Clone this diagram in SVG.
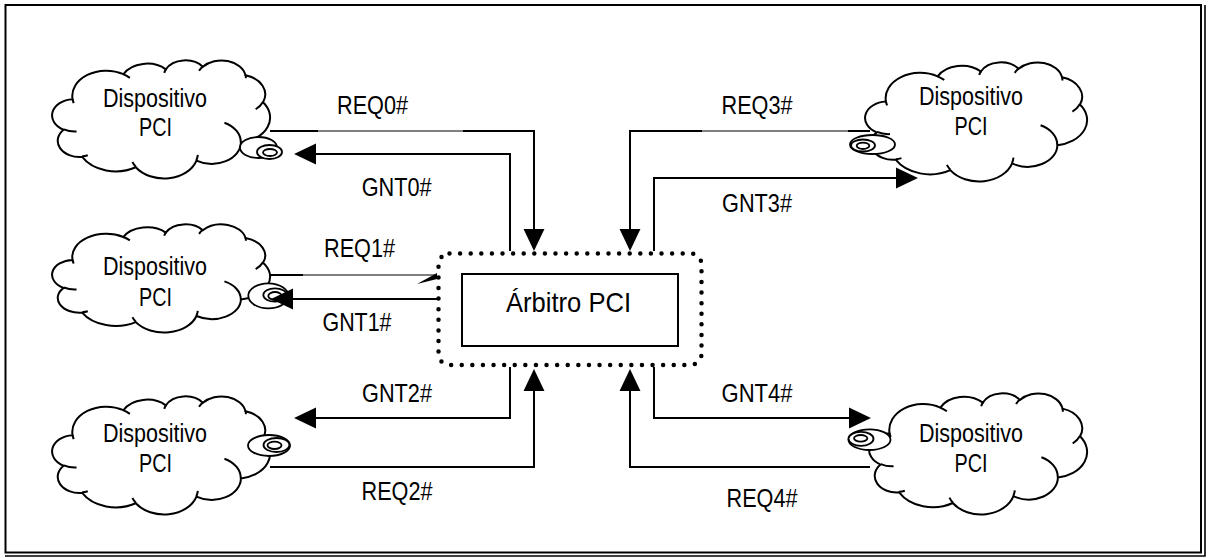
<svg xmlns="http://www.w3.org/2000/svg" xmlns:xlink="http://www.w3.org/1999/xlink" width="1208" height="558" viewBox="0 0 1208 558">
<style>
.ln{fill:none;stroke:#000;stroke-width:2}
.thin{fill:none;stroke:#000;stroke-width:1}
.cl{fill:#fff;stroke:#000;stroke-width:2}
.cr{fill:none;stroke:#000;stroke-width:2}
.bub{fill:#fff;stroke:#000;stroke-width:1.8}
.t{font-family:"Liberation Sans",Arial,sans-serif;font-size:25px;fill:#000;text-anchor:middle}
.tb{font-family:"Liberation Sans",Arial,sans-serif;font-size:28px;fill:#000;text-anchor:middle}
</style>
<defs>
<marker id="ah" markerUnits="userSpaceOnUse" markerWidth="22" markerHeight="22" viewBox="0 0 21 20" refX="1" refY="10" orient="auto">
<path d="M0,0 L21,10 L0,20 Z" fill="#000"/>
</marker>
<path id="cloud" vector-effect="non-scaling-stroke" d="M9.03,33.26 A15.63,21.27 0 0 1 32.42,12.04 A12.34,16.82 0 0 1 51.98,7.94 A10.10,13.76 0 0 1 69.06,5.74 A11.24,15.27 0 0 1 88.70,12.90 A12.34,16.84 0 0 1 96.80,35.78 A15.68,21.34 0 0 1 86.59,69.91 A13.39,18.21 0 0 1 66.11,85.21 A15.63,21.33 0 0 1 38.15,90.89 A17.87,24.41 0 0 1 13.44,82.11 A10.09,13.70 0 0 1 4.90,59.14 A10.06,13.76 0 0 1 9.03,33.26 Z"/>
<path id="crease" vector-effect="non-scaling-stroke" d="M10.86,60.59 A10.06,13.76 0 0 1 5.00,58.75 M16.04,80.78 A10.09,13.70 0 0 1 13.47,81.67 M38.14,90.49 A15.63,21.33 0 0 1 36.60,86.45 M66.73,80.44 A15.63,21.33 0 0 1 66.11,84.86 M79.00,53.13 A13.39,18.21 0 0 1 86.53,69.65 M96.75,35.54 A12.34,16.84 0 0 1 93.40,41.74 M88.71,12.56 A11.24,15.27 0 0 1 88.89,15.48 M67.31,9.15 A11.24,15.27 0 0 1 69.03,5.41 M51.25,10.93 A10.10,13.76 0 0 1 52.08,7.71 M32.41,12.02 A15.63,21.27 0 0 1 35.42,15.14 M9.55,36.55 A15.63,21.27 0 0 1 9.03,33.27"/>
</defs>
<rect x="0" y="0" width="1208" height="558" fill="#fff"/>
<g id="frame" fill="none" stroke="#000">
<rect x="5.5" y="5" width="1195.5" height="547.5" stroke-width="2"/>
<path d="M1205,5 V556 H5" stroke-width="1.6"/>
</g>

<g id="dev0">
<use xlink:href="#cloud" class="cl" transform="translate(53,60) scale(2.17,1.18)"/>
<use xlink:href="#crease" class="cr" transform="translate(53,60) scale(2.17,1.18)"/>
<ellipse class="bub" cx="258.5" cy="147.5" rx="18.5" ry="10.5"/>
<ellipse class="bub" cx="269.5" cy="152" rx="12.5" ry="7"/>
<ellipse class="bub" cx="270" cy="152.5" rx="7" ry="3.5"/>
<text class="t" x="155" y="106.5" textLength="104" lengthAdjust="spacingAndGlyphs">Dispositivo</text>
<text class="t" x="155.5" y="136" textLength="33" lengthAdjust="spacingAndGlyphs">PCI</text>
</g>

<g id="dev1">
<use xlink:href="#cloud" class="cl" transform="translate(53,224) scale(2.17,1.08)"/>
<use xlink:href="#crease" class="cr" transform="translate(53,224) scale(2.17,1.08)"/>
<ellipse class="bub" cx="268.3" cy="295.8" rx="20" ry="12.5"/>
<ellipse class="bub" cx="275" cy="295" rx="11.7" ry="6.7"/>
<ellipse class="bub" cx="275" cy="296" rx="6.7" ry="4"/>
<text class="t" x="155" y="275" textLength="104" lengthAdjust="spacingAndGlyphs">Dispositivo</text>
<text class="t" x="155.5" y="306" textLength="33" lengthAdjust="spacingAndGlyphs">PCI</text>
</g>

<g id="dev2">
<use xlink:href="#cloud" class="cl" transform="translate(53,396) scale(2.17,1.18)"/>
<use xlink:href="#crease" class="cr" transform="translate(53,396) scale(2.17,1.18)"/>
<ellipse class="bub" cx="269" cy="445.5" rx="21" ry="10.5"/>
<ellipse class="bub" cx="276.5" cy="445" rx="13" ry="7"/>
<ellipse class="bub" cx="274.5" cy="445.3" rx="7" ry="3.7"/>
<text class="t" x="155" y="442" textLength="104" lengthAdjust="spacingAndGlyphs">Dispositivo</text>
<text class="t" x="155.5" y="472" textLength="33" lengthAdjust="spacingAndGlyphs">PCI</text>
</g>

<g id="dev3">
<use xlink:href="#cloud" class="cl" transform="translate(866,62) scale(2.21,1.19)"/>
<use xlink:href="#crease" class="cr" transform="translate(866,62) scale(2.21,1.19)"/>
<ellipse class="bub" cx="872.5" cy="144.5" rx="22.5" ry="9.5"/>
<ellipse class="bub" cx="863" cy="145.5" rx="12" ry="6"/>
<ellipse class="bub" cx="863" cy="145.8" rx="6.3" ry="3.2"/>
<text class="t" x="971" y="105" textLength="104" lengthAdjust="spacingAndGlyphs">Dispositivo</text>
<text class="t" x="971" y="135" textLength="33" lengthAdjust="spacingAndGlyphs">PCI</text>
</g>

<g id="dev4">
<use xlink:href="#cloud" class="cl" transform="translate(870,393) scale(2.17,1.21)"/>
<use xlink:href="#crease" class="cr" transform="translate(870,393) scale(2.17,1.21)"/>
<ellipse class="bub" cx="869.5" cy="439.7" rx="21" ry="10.3"/>
<ellipse class="bub" cx="861" cy="438.8" rx="12.5" ry="7"/>
<ellipse class="bub" cx="860.7" cy="438.3" rx="6.7" ry="3.3"/>
<text class="t" x="971" y="442" textLength="104" lengthAdjust="spacingAndGlyphs">Dispositivo</text>
<text class="t" x="971" y="472" textLength="33" lengthAdjust="spacingAndGlyphs">PCI</text>
</g>

<g id="arbiter">
<rect x="438.5" y="253.5" width="263" height="111.5" rx="11" fill="none" stroke="#000" stroke-width="4.5" stroke-linecap="round" stroke-dasharray="0 10.6"/>
<rect x="462" y="274" width="216" height="72" fill="#fff" stroke="#000" stroke-width="2"/>
<text class="tb" x="568.5" y="312" textLength="125" lengthAdjust="spacingAndGlyphs">Árbitro PCI</text>
</g>

<g id="connectors">
<path class="ln" d="M270,131 H318"/>
<path class="thin" d="M318,131 H463"/>
<path class="ln" d="M463,131 H534 V230" marker-end="url(#ah)"/>
<path class="ln" d="M510,251 V154 H315" marker-end="url(#ah)"/>
<path class="ln" d="M270,275 H303"/>
<path class="thin" d="M303,275 H437"/>
<polygon points="417,284 437,273 437,279" fill="#000"/>
<path class="ln" d="M437,299 H292" marker-end="url(#ah)"/>
<path class="ln" d="M510,367 V418 H315" marker-end="url(#ah)"/>
<path class="ln" d="M270,467 H534 V390" marker-end="url(#ah)"/>
<path class="ln" d="M870,131 H848"/>
<path class="thin" d="M848,131 H702"/>
<path class="ln" d="M702,131 H630 V230" marker-end="url(#ah)"/>
<path class="ln" d="M654,251 V178 H897" marker-end="url(#ah)"/>
<path class="ln" d="M654,367 V418 H850" marker-end="url(#ah)"/>
<path class="ln" d="M870,467 H630 V390" marker-end="url(#ah)"/>
</g>

<g id="labels">
<text class="t" x="372.5" y="114" textLength="71" lengthAdjust="spacingAndGlyphs">REQ0#</text>
<text class="t" x="396.7" y="196" textLength="70" lengthAdjust="spacingAndGlyphs">GNT0#</text>
<text class="t" x="359.5" y="257" textLength="71" lengthAdjust="spacingAndGlyphs">REQ1#</text>
<text class="t" x="357" y="331" textLength="69" lengthAdjust="spacingAndGlyphs">GNT1#</text>
<text class="t" x="397" y="402" textLength="70" lengthAdjust="spacingAndGlyphs">GNT2#</text>
<text class="t" x="397" y="500" textLength="71" lengthAdjust="spacingAndGlyphs">REQ2#</text>
<text class="t" x="757" y="114" textLength="71" lengthAdjust="spacingAndGlyphs">REQ3#</text>
<text class="t" x="757" y="212" textLength="70" lengthAdjust="spacingAndGlyphs">GNT3#</text>
<text class="t" x="757" y="402" textLength="71" lengthAdjust="spacingAndGlyphs">GNT4#</text>
<text class="t" x="762" y="507" textLength="71" lengthAdjust="spacingAndGlyphs">REQ4#</text>
</g>
</svg>
